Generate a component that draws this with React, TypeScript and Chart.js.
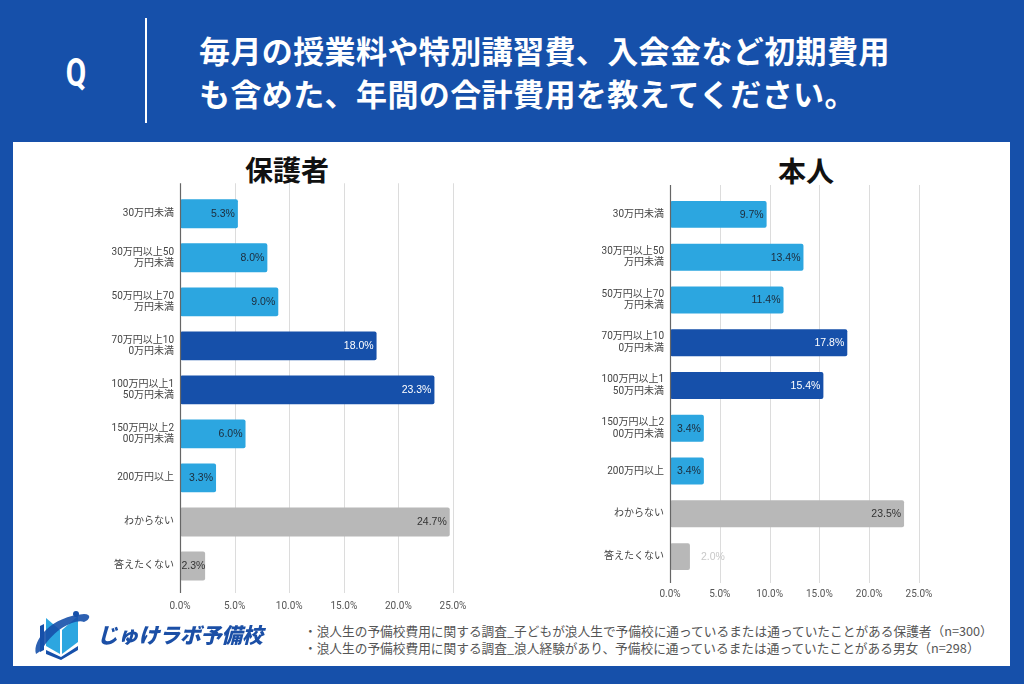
import React, { useEffect, useRef } from "react";
import { Chart, registerables } from "chart.js";

Chart.register(...registerables);

const categories: string[][] = [
  ["30万円未満"],
  ["30万円以上50", "万円未満"],
  ["50万円以上70", "万円未満"],
  ["70万円以上10", "0万円未満"],
  ["100万円以上1", "50万円未満"],
  ["150万円以上2", "00万円未満"],
  ["200万円以上"],
  ["わからない"],
  ["答えたくない"],
];
const guardianValues = [5.3, 8.0, 9.0, 18.0, 23.3, 6.0, 3.3, 24.7, 2.3];
const selfValues = [9.7, 13.4, 11.4, 17.8, 15.4, 3.4, 3.4, 23.5, 2.0];
const barKinds = ["light", "light", "light", "dark", "dark", "light", "light", "gray", "gray"];
const xMin = 0;
const xMax = 25;
const xStep = 5;

const titleLines = [
  "毎月の授業料や特別講習費、入会金など初期費用",
  "も含めた、年間の合計費用を教えてください。",
];
const footnotes = [
  "・浪人生の予備校費用に関する調査_子どもが浪人生で予備校に通っているまたは通っていたことがある保護者（n=300）",
  "・浪人生の予備校費用に関する調査_浪人経験があり、予備校に通っているまたは通っていたことがある男女（n=298）",
];

const BLUE = "#1650AA";
const LIGHT = "#2CA6E0";
const GRAY = "#B8B8B8";
const FONT = "Roboto, 'Noto Sans CJK JP', sans-serif";
const VALUE_FONT = "'Liberation Sans', Arial, sans-serif";

const fillFor: Record<string, string> = { light: LIGHT, dark: BLUE, gray: GRAY };
const textFor: Record<string, string> = { light: "#1d2b3a", dark: "#ffffff", gray: "#333333" };

const gridPlugin = {
  id: "extGrid",
  beforeDatasetsDraw(chart: any, _args: any, opts: any) {
    const { ctx, chartArea, scales } = chart;
    const top = chartArea.top - (opts.extTop || 0);
    const bottom = chartArea.bottom + (opts.extBottom || 0);
    ctx.save();
    ctx.lineWidth = 1;
    ctx.strokeStyle = "#dcdcdc";
    scales.x.ticks.forEach((t: any) => {
      if (t.value === 0) return;
      const x = Math.round(scales.x.getPixelForValue(t.value)) + 0.5;
      ctx.beginPath();
      ctx.moveTo(x, top);
      ctx.lineTo(x, bottom);
      ctx.stroke();
    });
    ctx.restore();
  },
  afterDatasetsDraw(chart: any, _args: any, opts: any) {
    const { ctx, chartArea, scales } = chart;
    const top = chartArea.top - (opts.extTop || 0);
    const bottom = chartArea.bottom + (opts.extBottom || 0);
    ctx.save();
    ctx.strokeStyle = "#666666";
    ctx.lineWidth = 1.2;
    const x = Math.round(scales.x.getPixelForValue(0)) + 0.5;
    ctx.beginPath();
    ctx.moveTo(x, top);
    ctx.lineTo(x, bottom);
    ctx.stroke();

    const meta = chart.getDatasetMeta(0);
    const data = chart.data.datasets[0].data as number[];
    ctx.font = `10.5px ${VALUE_FONT}`;
    ctx.textBaseline = "middle";
    meta.data.forEach((bar: any, i: number) => {
      const text = data[i].toFixed(1) + "%";
      const w = ctx.measureText(text).width;
      const barW = bar.x - bar.base;
      if (w <= barW) {
        ctx.textAlign = "right";
        ctx.fillStyle = textFor[barKinds[i]];
        ctx.fillText(text, Math.max(bar.x - 3, bar.base + w + 1.5), bar.y + 0.5);
      } else {
        ctx.textAlign = "left";
        ctx.fillStyle = "#c8c8c8";
        ctx.fillText(text, bar.x + 11, bar.y + 0.5);
      }
    });
    ctx.restore();
  },
};

type PanelProps = {
  values: number[];
  left: number;
  top: number;
  width: number;
  height: number;
  axisWidth: number;
  padTop: number;
  padRight: number;
  barPct: number;
  tickPad: number;
  extTop: number;
  extBottom: number;
};

function BarPanel(p: PanelProps) {
  const ref = useRef<HTMLCanvasElement | null>(null);
  useEffect(() => {
    if (!ref.current) return;
    const chart = new Chart(ref.current, {
      type: "bar",
      data: {
        labels: categories as any,
        datasets: [
          {
            data: p.values,
            backgroundColor: barKinds.map((k) => fillFor[k]),
            borderWidth: 0,
            borderRadius: 2,
            borderSkipped: false,
            categoryPercentage: 1,
            barPercentage: p.barPct,
          },
        ],
      },
      options: {
        indexAxis: "y",
        responsive: false,
        animation: false,
        devicePixelRatio: 1,
        layout: { padding: { top: p.padTop, right: p.padRight, bottom: 0, left: 0 } },
        plugins: {
          legend: { display: false },
          tooltip: { enabled: false },
          extGrid: { extTop: p.extTop, extBottom: p.extBottom },
        } as any,
        scales: {
          x: {
            type: "linear",
            min: xMin,
            max: xMax,
            grid: { display: false, drawTicks: false },
            border: { display: false },
            ticks: {
              stepSize: xStep,
              color: "#555555",
              font: { size: 10, family: FONT },
              padding: p.tickPad,
              maxRotation: 0,
              callback: (v: any) => Number(v).toFixed(1) + "%",
            },
            afterFit: (s: any) => {
              s.height = 30;
            },
          },
          y: {
            grid: { display: false, drawTicks: false },
            border: { display: false },
            ticks: {
              color: "#444444",
              font: { size: 10, family: FONT, lineHeight: 1.15 },
              padding: 6,
              autoSkip: false,
            },
            afterFit: (s: any) => {
              s.width = p.axisWidth;
            },
          },
        },
      },
      plugins: [gridPlugin],
    });
    return () => chart.destroy();
  }, []);
  return (
    <canvas
      ref={ref}
      width={p.width}
      height={p.height}
      style={{ position: "absolute", left: p.left, top: p.top, width: p.width, height: p.height }}
    />
  );
}

function Logo() {
  return (
    <div style={{ position: "absolute", left: 32, top: 610, width: 240, height: 50 }}>
      <svg width="62" height="50" viewBox="0 0 62 50" style={{ position: "absolute", left: 0, top: 0 }}>
        <path d="M14 8 L28 20 L28 44 L14 36 Z" fill={LIGHT} />
        <path d="M30 20 L46 6 L46 32 L30 44 Z" fill={LIGHT} />
        <path d="M8 16 L12 14 L12 40 L8 42 Z" fill={BLUE} />
        <path d="M4 44 C0 30 20 6 52 4 C60 4 58 10 52 12 C44 8 20 20 10 40 Z" fill={BLUE} opacity="0.9" />
        <path d="M14 40 L29 47 L46 36 L46 40 L29 50 L14 44 Z" fill={BLUE} />
        <circle cx="44" cy="4" r="3" fill={BLUE} />
      </svg>
      <div
        style={{
          position: "absolute",
          left: 65,
          top: 10,
          fontFamily: "'Noto Sans CJK JP', sans-serif",
          fontWeight: 900,
          fontSize: 21,
          color: "#1B4FA6",
          fontStyle: "italic",
          whiteSpace: "nowrap",
          letterSpacing: -0.3,
          lineHeight: "28px",
        }}
      >
        じゅけラボ予備校
      </div>
    </div>
  );
}

export default function App() {
  return (
    <div
      style={{
        position: "absolute",
        left: 0,
        top: 0,
        width: 1024,
        height: 684,
        background: BLUE,
        overflow: "hidden",
        fontFamily: "'Noto Sans CJK JP', sans-serif",
      }}
    >
      <div
        style={{
          position: "absolute",
          left: 56,
          top: 50,
          width: 40,
          textAlign: "center",
          color: "#fff",
          fontFamily: "Roboto, sans-serif",
          fontWeight: 700,
          fontSize: 38,
          lineHeight: "46px",
          transform: "scaleX(0.78)",
        }}
      >
        Q
      </div>
      <div style={{ position: "absolute", left: 145, top: 18, width: 1.5, height: 105, background: "#ffffff" }} />
      <div
        style={{
          position: "absolute",
          left: 199,
          top: 28,
          color: "#fff",
          fontWeight: 700,
          fontSize: 31,
          letterSpacing: 0.4,
          lineHeight: "43px",
          whiteSpace: "nowrap",
        }}
      >
        {titleLines.map((t, i) => (
          <div key={i}>{t}</div>
        ))}
      </div>
      <div style={{ position: "absolute", left: 13, top: 142, width: 997, height: 524, background: "#ffffff" }} />
      <div
        style={{
          position: "absolute",
          left: 187,
          top: 150,
          width: 200,
          textAlign: "center",
          fontWeight: 700,
          fontSize: 28,
          lineHeight: "38px",
          color: "#111",
        }}
      >
        保護者
      </div>
      <div
        style={{
          position: "absolute",
          left: 706,
          top: 151,
          width: 200,
          textAlign: "center",
          fontWeight: 700,
          fontSize: 28,
          lineHeight: "38px",
          color: "#111",
        }}
      >
        本人
      </div>
      <BarPanel
        values={guardianValues}
        left={20}
        top={180}
        width={480}
        height={438}
        axisWidth={160}
        padTop={11.5}
        padRight={47}
        barPct={0.655}
        tickPad={12}
        extTop={8.5}
        extBottom={5}
      />
      <BarPanel
        values={selfValues}
        left={520}
        top={180}
        width={440}
        height={428}
        axisWidth={150}
        padTop={13}
        padRight={41}
        barPct={0.63}
        tickPad={10}
        extTop={8}
        extBottom={5}
      />
      <Logo />
      <div
        style={{
          position: "absolute",
          left: 304,
          top: 622,
          color: "#555",
          fontSize: 12.7,
          lineHeight: "17px",
          whiteSpace: "nowrap",
        }}
      >
        {footnotes.map((t, i) => (
          <div key={i}>{t}</div>
        ))}
      </div>
    </div>
  );
}
